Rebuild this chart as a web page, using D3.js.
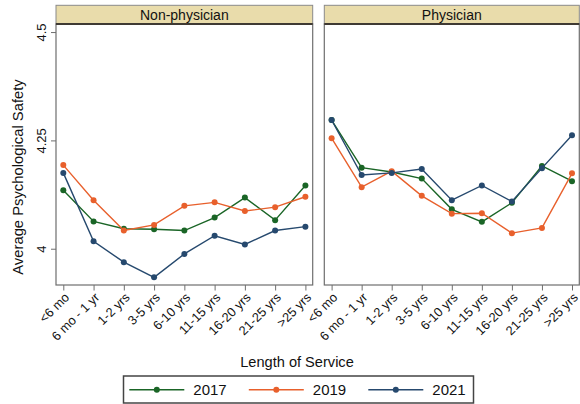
<!DOCTYPE html>
<html>
<head>
<meta charset="utf-8">
<script src="https://cdn.jsdelivr.net/npm/d3@7"></script>
<style>
  html, body { margin: 0; padding: 0; background: #fff; }
  svg { display: block; font-family: "Liberation Sans", Arial, Helvetica, sans-serif; }
</style>
</head>
<body>
<svg id="chart" width="580" height="404"></svg>
<script>
// Length-of-service categories (x axis)
const categories = ["<6 mo", "6 mo - 1 yr", "1-2 yrs", "3-5 yrs", "6-10 yrs",
                    "11-15 yrs", "16-20 yrs", "21-25 yrs", ">25 yrs"];
const panels = ["Non-physician", "Physician"];
const years = ["2017", "2019", "2021"];
const yTicks = [4, 4.25, 4.5];

// Average psychological safety by year, non-physician staff
const nonPhys2017 = [4.135, 4.063, 4.046, 4.045, 4.042, 4.072, 4.118, 4.066, 4.146];
const nonPhys2019 = [4.193, 4.112, 4.042, 4.055, 4.099, 4.107, 4.087, 4.096, 4.120];
const nonPhys2021 = [4.175, 4.017, 3.969, 3.934, 3.988, 4.030, 4.010, 4.042, 4.051];

// Average psychological safety by year, physicians
const phys2017 = [4.297, 4.187, 4.177, 4.162, 4.091, 4.062, 4.106, 4.191, 4.156];
const phys2019 = [4.255, 4.142, 4.179, 4.122, 4.081, 4.082, 4.036, 4.048, 4.174];
const phys2021 = [4.297, 4.170, 4.175, 4.184, 4.112, 4.146, 4.109, 4.186, 4.262];

const colors = { "2017": "#1a6526", "2019": "#e8602c", "2021": "#26496e" };

const seriesByPanel = {
  "Non-physician": { "2017": nonPhys2017, "2019": nonPhys2019, "2021": nonPhys2021 },
  "Physician":     { "2017": phys2017,    "2019": phys2019,    "2021": phys2021 }
};

const svg = d3.select("#chart");

const plotTop = 24, plotBottom = 285;
const panelX = { "Non-physician": [56, 312.7], "Physician": [324.3, 579.3] };
const pad = 7.3;

const y = d3.scaleLinear().domain([3.9163, 4.5186]).range([plotBottom, plotTop]);

panels.forEach((p, pi) => {
  const [x0, x1] = panelX[p];
  const x = d3.scalePoint().domain(categories).range([x0 + pad, x1 - pad]);
  const g = svg.append("g");

  // strip header
  g.append("rect")
    .attr("x", x0).attr("y", 5.3).attr("width", x1 - x0).attr("height", plotTop - 5.3)
    .attr("fill", "#e9dcab").attr("stroke", "#8a8a8a").attr("stroke-width", 1);
  g.append("text")
    .attr("x", (x0 + x1) / 2).attr("y", 19.8)
    .attr("text-anchor", "middle").attr("font-size", 14).attr("fill", "#111")
    .text(p);

  // plot frame
  g.append("rect")
    .attr("x", x0).attr("y", plotTop).attr("width", x1 - x0).attr("height", plotBottom - plotTop)
    .attr("fill", "#fff").attr("stroke", "#6e6e6e").attr("stroke-width", 1.2);
  g.append("line")
    .attr("x1", x0).attr("x2", x1).attr("y1", plotTop).attr("y2", plotTop)
    .attr("stroke", "#3f3a33").attr("stroke-width", 2);

  // x axis
  const xAxis = d3.axisBottom(x).tickSize(5.5).tickPadding(2);
  const xg = g.append("g").attr("transform", `translate(0,${plotBottom})`).call(xAxis);
  xg.select(".domain").remove();
  xg.attr("font-size", null).attr("font-family", null);
  xg.selectAll(".tick line").attr("stroke", "#6e6e6e");
  xg.selectAll(".tick text")
    .style("font-size", "12.8px").attr("fill", "#111")
    .attr("text-anchor", "end")
    .attr("x", 0).attr("y", 0)
    .attr("dy", "0.35em")
    .attr("transform", "translate(3,10) rotate(-45)");

  // y axis on the first panel only
  if (pi === 0) {
    const yAxis = d3.axisLeft(y).tickValues(yTicks).tickSize(5).tickPadding(0)
      .tickFormat(d3.format("~g"));
    const yg = g.append("g").attr("transform", `translate(${x0},0)`).call(yAxis);
    yg.select(".domain").remove();
    yg.attr("font-size", null).attr("font-family", null);
    yg.selectAll(".tick line").attr("stroke", "#6e6e6e");
    yg.selectAll(".tick text")
      .style("font-size", "13px").attr("fill", "#111")
      .attr("x", 0).attr("dy", 0)
      .attr("text-anchor", "middle")
      .attr("transform", "translate(-10,0) rotate(-90)");
  }

  // series lines and points
  years.forEach(yr => {
    const vals = seriesByPanel[p][yr];
    const pts = categories.map((c, i) => [x(c), y(vals[i])]);
    g.append("path")
      .attr("d", d3.line()(pts))
      .attr("fill", "none").attr("stroke", colors[yr]).attr("stroke-width", 1.4);
    g.selectAll(null).data(pts).enter().append("circle")
      .attr("cx", d => d[0]).attr("cy", d => d[1]).attr("r", 3)
      .attr("fill", colors[yr]);
  });
});

// axis titles
svg.append("text")
  .attr("transform", "translate(23,177) rotate(-90)")
  .attr("text-anchor", "middle").attr("font-size", 14.8).attr("fill", "#111")
  .text("Average Psychological Safety");
svg.append("text")
  .attr("x", 297).attr("y", 366.8)
  .attr("text-anchor", "middle").attr("font-size", 14.6).attr("fill", "#111")
  .text("Length of Service");

// legend
const legend = svg.append("g");
legend.append("rect")
  .attr("x", 123.5).attr("y", 376).attr("width", 350).attr("height", 27)
  .attr("fill", "#fff").attr("stroke", "#444").attr("stroke-width", 1.5);
const legendX = d3.scalePoint().domain(years).range([129.3, 368.3]);
years.forEach(yr => {
  const lx = legendX(yr);
  legend.append("line")
    .attr("x1", lx).attr("x2", lx + 55).attr("y1", 389.7).attr("y2", 389.7)
    .attr("stroke", colors[yr]).attr("stroke-width", 1.4);
  legend.append("circle")
    .attr("cx", lx + 27.5).attr("cy", 389.7).attr("r", 3).attr("fill", colors[yr]);
  legend.append("text")
    .attr("x", lx + 64).attr("y", 395.3)
    .attr("font-size", 15).attr("fill", "#111")
    .text(yr);
});
</script>
</body>
</html>
